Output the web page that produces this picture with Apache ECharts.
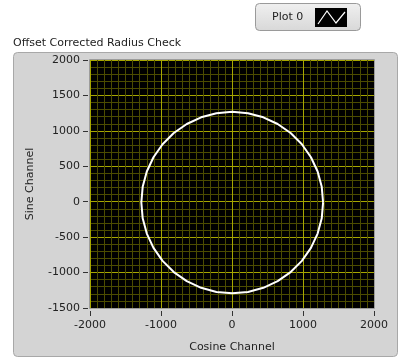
<!DOCTYPE html>
<html>
<head>
<meta charset="utf-8">
<script src="https://cdn.jsdelivr.net/npm/echarts@6/dist/echarts.min.js"></script>
<style>html,body{margin:0;padding:0;background:#fff;}#c{width:401px;height:360px;}</style>
</head>
<body>
<div id="c"></div>
<script>
const chartTitle = 'Offset Corrected Radius Check';
const legendName = 'Plot 0';
const xName = 'Cosine Channel';
const yName = 'Sine Channel';
const xTicks = [-2000, -1000, 0, 1000, 2000];
const yTicks = [-1500, -1000, -500, 0, 500, 1000, 1500, 2000];
// points read around the trace (cosine, sine)
const cosineValues = [1283, 1264, 1206, 1112, 984, 826, 643, 441, 225, 3, -219, -435, -637, -820, -978, -1106, -1200, -1258, -1277, -1258, -1200, -1106, -978, -820, -637, -435, -219, 3, 225, 441, 643, 826, 984, 1112, 1206, 1264, 1283];
const sineValues = [-12, 210, 426, 628, 811, 969, 1097, 1191, 1249, 1268, 1249, 1191, 1097, 969, 811, 628, 426, 210, -12, -234, -450, -652, -835, -993, -1121, -1215, -1273, -1292, -1273, -1215, -1121, -993, -835, -652, -450, -234, -12];

const data = cosineValues.map((x, i) => [x, sineValues[i]]);
const FONT = 'DejaVu Sans';
const G = {left: 90, top: 60, width: 284, height: 248};
const chart = echarts.init(document.getElementById('c'), null, {renderer: 'canvas'});
chart.setOption({
  animation: false,
  backgroundColor: '#ffffff',
  title: {
    text: chartTitle, left: 8, top: 33,
    textStyle: {fontFamily: FONT, fontSize: 11, fontWeight: 'normal', color: '#222'}
  },
  grid: {left: G.left, top: G.top, width: G.width, height: G.height, show: true, backgroundColor: '#000000', borderWidth: 0, z: -1},
  xAxis: {
    type: 'value', min: xTicks[0], max: xTicks[xTicks.length - 1], interval: 1000,
    name: xName, nameLocation: 'middle', nameGap: 31,
    nameTextStyle: {fontFamily: FONT, fontSize: 11, color: '#222'},
    offset: 3,
    axisLine: {show: true, onZero: false, lineStyle: {color: 'rgba(0,0,0,0)'}},
    axisTick: {show: true, length: 5, lineStyle: {color: '#333'}},
    axisLabel: {fontFamily: FONT, fontSize: 11, color: '#222', margin: 9, formatter: v => String(v)},
    splitLine: {show: true, lineStyle: {color: '#a6a600', width: 1}},
    minorTick: {show: false, splitNumber: 10},
    minorSplitLine: {show: true, lineStyle: {color: '#4c4c00', width: 1}}
  },
  yAxis: {
    type: 'value', min: yTicks[0], max: yTicks[yTicks.length - 1], interval: 500,
    name: yName, nameLocation: 'middle', nameGap: 52, nameRotate: 90,
    nameTextStyle: {fontFamily: FONT, fontSize: 11, color: '#222'},
    offset: 2,
    axisLine: {show: true, onZero: false, lineStyle: {color: 'rgba(0,0,0,0)'}},
    axisTick: {show: true, length: 5, lineStyle: {color: '#333'}},
    axisLabel: {fontFamily: FONT, fontSize: 11, color: '#222', margin: 8, formatter: v => String(v)},
    splitLine: {show: true, lineStyle: {color: '#a6a600', width: 1}},
    minorTick: {show: false, splitNumber: 5},
    minorSplitLine: {show: true, lineStyle: {color: '#4c4c00', width: 1}}
  },
  graphic: [
    {type: 'rect', z: -10, shape: {x: 13.5, y: 52.5, width: 384, height: 304, r: 4},
      style: {fill: '#d4d4d4', stroke: '#a8a8a8', lineWidth: 1}},
    {type: 'rect', z: 20, shape: {x: G.left - 0.5, y: G.top - 0.5, width: G.width + 1, height: G.height + 1},
      style: {fill: null, stroke: '#9c9c9c', lineWidth: 1}},
    {type: 'rect', z: 10, shape: {x: 255.5, y: 3.5, width: 105, height: 27, r: 4},
      style: {fill: new echarts.graphic.LinearGradient(0, 0, 0, 1, [{offset: 0, color: '#f0f0f0'}, {offset: 1, color: '#d8d8d8'}]), stroke: '#9a9a9a', lineWidth: 1}},
    {type: 'text', z: 11, style: {text: legendName, x: 272, y: 17, fontFamily: FONT, fontSize: 11, fill: '#222', verticalAlign: 'middle'}},
    {type: 'rect', z: 11, shape: {x: 315, y: 8, width: 32, height: 19}, style: {fill: '#000'}},
    {type: 'polyline', z: 12, shape: {points: [[318, 24], [327, 11], [336, 23], [345, 12]]},
      style: {stroke: '#fff', lineWidth: 1.2, fill: null}}
  ],
  series: [{
    name: legendName, type: 'line', data: data, showSymbol: false, smooth: false,
    lineStyle: {color: '#ffffff', width: 2}, z: 5
  }]
});
</script>
</body>
</html>
